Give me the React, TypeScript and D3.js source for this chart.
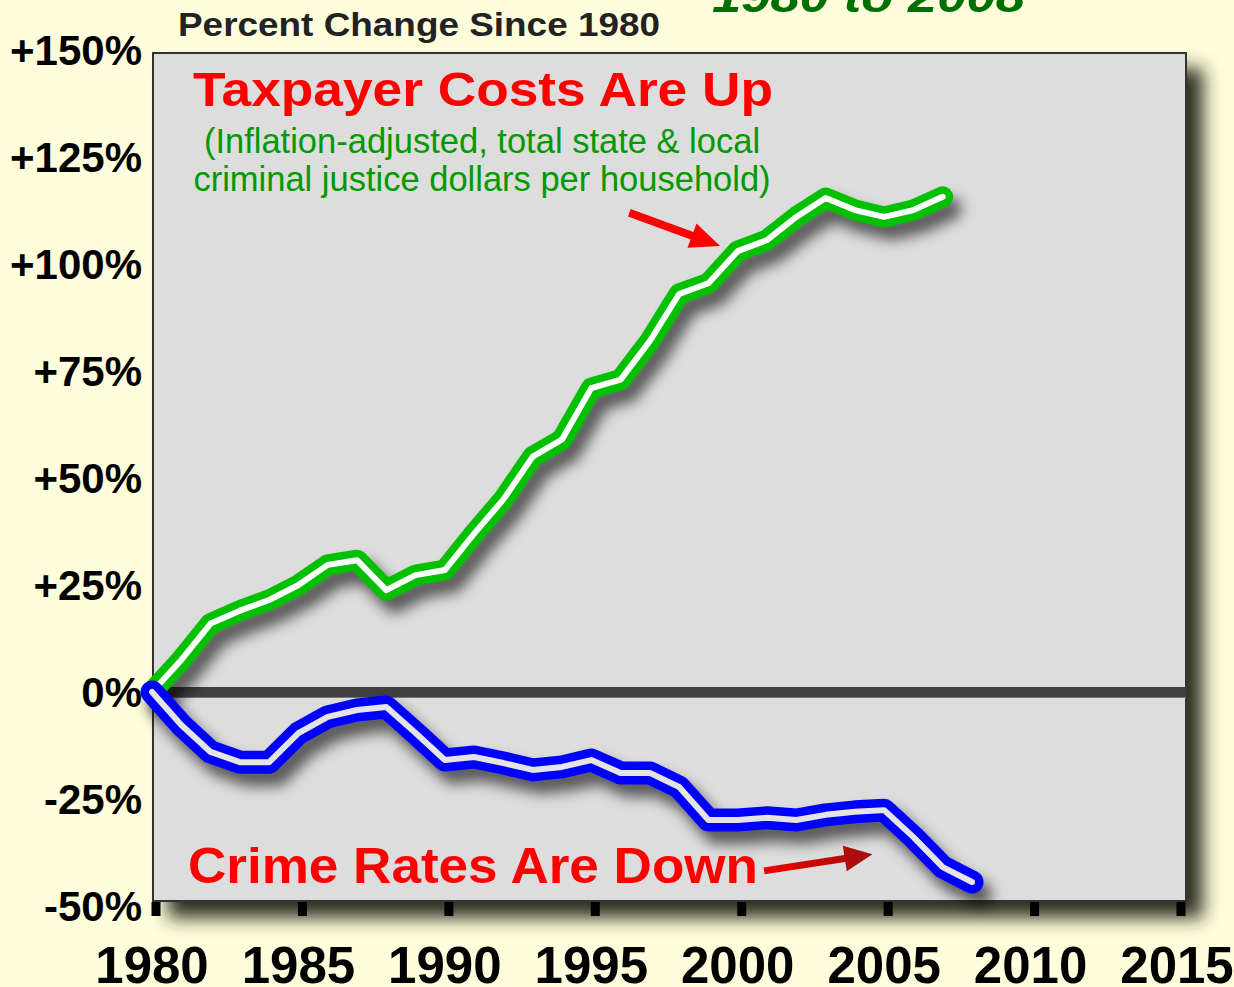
import React from 'react';
import * as d3 from 'd3';

// ---- data ----
const costYears = [1980, 1981, 1982, 1983, 1984, 1985, 1986, 1987, 1988, 1989, 1990, 1991, 1992, 1993, 1994, 1995, 1996, 1997, 1998, 1999, 2000, 2001, 2002, 2003, 2004, 2005, 2006, 2007];
const costValues = [0, 7.5, 16, 19, 21.5, 25, 29.7, 30.8, 23.8, 27.3, 28.5, 37, 45, 55, 59, 71, 73, 82, 93, 95.5, 103, 105.6, 111, 115.4, 112.6, 111, 112.6, 115.7];
const crimeYears = [1980, 1981, 1982, 1983, 1984, 1985, 1986, 1987, 1988, 1989, 1990, 1991, 1992, 1993, 1994, 1995, 1996, 1997, 1998, 1999, 2000, 2001, 2002, 2003, 2004, 2005, 2006, 2007, 2008];
const crimeValues = [0, -7.7, -14, -16.4, -16.4, -9.6, -5.8, -4.2, -3.5, -9.6, -15.9, -15.2, -16.6, -18.2, -17.5, -15.9, -18.9, -18.9, -22.2, -29.9, -29.9, -29.4, -29.9, -28.7, -28, -27.6, -33.9, -40.9, -44.4];
const yTicks = [150, 125, 100, 75, 50, 25, 0, -25, -50];
const yTickLabels = ['+150%', '+125%', '+100%', '+75%', '+50%', '+25%', '0%', '-25%', '-50%'];
const xTicks = [1980, 1985, 1990, 1995, 2000, 2005, 2010, 2015];
const xTickLabels = ['1980', '1985', '1990', '1995', '2000', '2005', '2010', '2015'];

const W = 1234;
const H = 987;
const FONT = "'Liberation Sans', Arial, sans-serif";

export default function App() {
  const x = d3.scaleLinear().domain([1980, 2015]).range([152, 1177]);
  const y = d3.scaleLinear().domain([-50, 150]).range([906, 50]);
  const plot = { left: 153, top: 53, right: 1186, bottom: 901 };

  const line = d3
    .line<[number, number]>()
    .x((d) => x(d[0]))
    .y((d) => y(d[1]))
    .curve(d3.curveLinear);

  const costPath = line(costYears.map((yr, i) => [yr, costValues[i]] as [number, number])) || '';
  const crimePath = line(crimeYears.map((yr, i) => [yr, crimeValues[i]] as [number, number])) || '';

  const arrow = (x1: number, y1: number, x2: number, y2: number, shaft: number, headLen: number, headW: number) => {
    const dx = x2 - x1;
    const dy = y2 - y1;
    const len = Math.hypot(dx, dy);
    const ux = dx / len;
    const uy = dy / len;
    const px = -uy;
    const py = ux;
    const bx = x2 - ux * headLen;
    const by = y2 - uy * headLen;
    const s = shaft / 2;
    const h = headW / 2;
    const pts = [
      [x1 + px * s, y1 + py * s],
      [bx + px * s, by + py * s],
      [bx + px * h, by + py * h],
      [x2, y2],
      [bx - px * h, by - py * h],
      [bx - px * s, by - py * s],
      [x1 - px * s, y1 - py * s],
    ];
    return pts.map((p) => p.join(',')).join(' ');
  };

  return (
    <svg
      width={W}
      height={H}
      style={{ position: 'absolute', left: 0, top: 0, display: 'block' }}
      fontFamily={FONT}
    >
      <defs>
        <filter id="plotShadow" x="-10%" y="-10%" width="130%" height="130%">
          <feGaussianBlur in="SourceAlpha" stdDeviation="9" />
          <feOffset dx="16" dy="16" result="b" />
          <feFlood floodColor="#26261a" floodOpacity="0.95" />
          <feComposite in2="b" operator="in" />
          <feMerge>
            <feMergeNode />
            <feMergeNode in="SourceGraphic" />
          </feMerge>
        </filter>
        <filter id="lineShadow" x="-20%" y="-20%" width="140%" height="140%">
          <feGaussianBlur stdDeviation="7" />
        </filter>
        <linearGradient id="darkRed" x1="0" x2="1" y1="0" y2="0">
          <stop offset="0%" stopColor="#ee0000" />
          <stop offset="100%" stopColor="#a01010" />
        </linearGradient>
      </defs>

      <rect x={0} y={0} width={W} height={H} fill="#fefedc" />

      {/* plot area */}
      <rect
        x={plot.left}
        y={plot.top}
        width={plot.right - plot.left}
        height={plot.bottom - plot.top}
        fill="#dddddd"
        stroke="#333"
        strokeWidth={2}
        filter="url(#plotShadow)"
      />

      {/* x tick marks */}
      {xTicks.map((t) => (
        <rect key={'xt' + t} x={x(t) + 4 - 4.5} y={plot.bottom + 1} width={9} height={14} fill="#000" />
      ))}

      {/* zero line */}
      <line x1={plot.left + 1} x2={plot.right} y1={y(0) + 5} y2={y(0) + 5} stroke="#777" strokeWidth={2} />
      <line x1={plot.left + 1} x2={plot.right} y1={y(0)} y2={y(0)} stroke="#404040" strokeWidth={10} />

      {/* line shadows */}
      <g transform="translate(8,12)" filter="url(#lineShadow)">
        <path d={costPath} fill="none" stroke="#000" strokeOpacity={0.6} strokeWidth={22} strokeLinejoin="round" strokeLinecap="round" />
        <path d={crimePath} fill="none" stroke="#000" strokeOpacity={0.6} strokeWidth={24} strokeLinejoin="round" strokeLinecap="round" />
      </g>

      {/* cost line */}
      <path d={costPath} fill="none" stroke="#00c000" strokeWidth={21} strokeLinejoin="round" strokeLinecap="round" />
      <path d={costPath} fill="none" stroke="#ffffff" strokeWidth={6} strokeLinejoin="round" strokeLinecap="round" />

      {/* crime line */}
      <path d={crimePath} fill="none" stroke="#0000ff" strokeWidth={23} strokeLinejoin="round" strokeLinecap="round" />
      <path d={crimePath} fill="none" stroke="#e4e4e4" strokeWidth={6} strokeLinejoin="round" strokeLinecap="round" />

      {/* annotations */}
      <text x={193} y={106} fontSize={48} fontWeight="bold" fill="#ff0000" textLength={580} lengthAdjust="spacingAndGlyphs">
        Taxpayer Costs Are Up
      </text>
      <text x={482} y={153} fontSize={34.5} fill="#009a00" textAnchor="middle">
        (Inflation-adjusted, total state &amp; local
      </text>
      <text x={482} y={191} fontSize={34.5} fill="#009a00" textAnchor="middle">
        criminal justice dollars per household)
      </text>
      <polygon points={arrow(x(1996.3), y(112), x(1999.4), y(104.2), 8, 30, 26)} fill="#ff0000" />

      <text x={188} y={883} fontSize={50} fontWeight="bold" fill="#ff0000" textLength={570} lengthAdjust="spacingAndGlyphs">
        Crime Rates Are Down
      </text>
      <polygon points={arrow(x(2000.9), y(-41.8), x(2004.6), y(-37.9), 7, 28, 26)} fill="url(#darkRed)" />

      {/* y tick labels */}
      {yTicks.map((t, i) => (
        <text key={'yl' + t} x={142} y={y(t) + 15} fontSize={42} fontWeight="bold" fill="#000" textAnchor="end">
          {yTickLabels[i]}
        </text>
      ))}

      {/* x tick labels */}
      {xTicks.map((t, i) => (
        <text key={'xl' + t} x={x(t)} y={983} fontSize={51} fontWeight="bold" fill="#000" textAnchor="middle">
          {xTickLabels[i]}
        </text>
      ))}

      {/* headings */}
      <text x={178} y={36} fontSize={34} fontWeight="bold" fill="#222" textLength={482} lengthAdjust="spacingAndGlyphs">
        Percent Change Since 1980
      </text>
      <text x={712} y={12} fontSize={44} fontWeight="bold" fontStyle="italic" fill="#006e00" textLength={313} lengthAdjust="spacingAndGlyphs">
        1980 to 2008
      </text>
    </svg>
  );
}
